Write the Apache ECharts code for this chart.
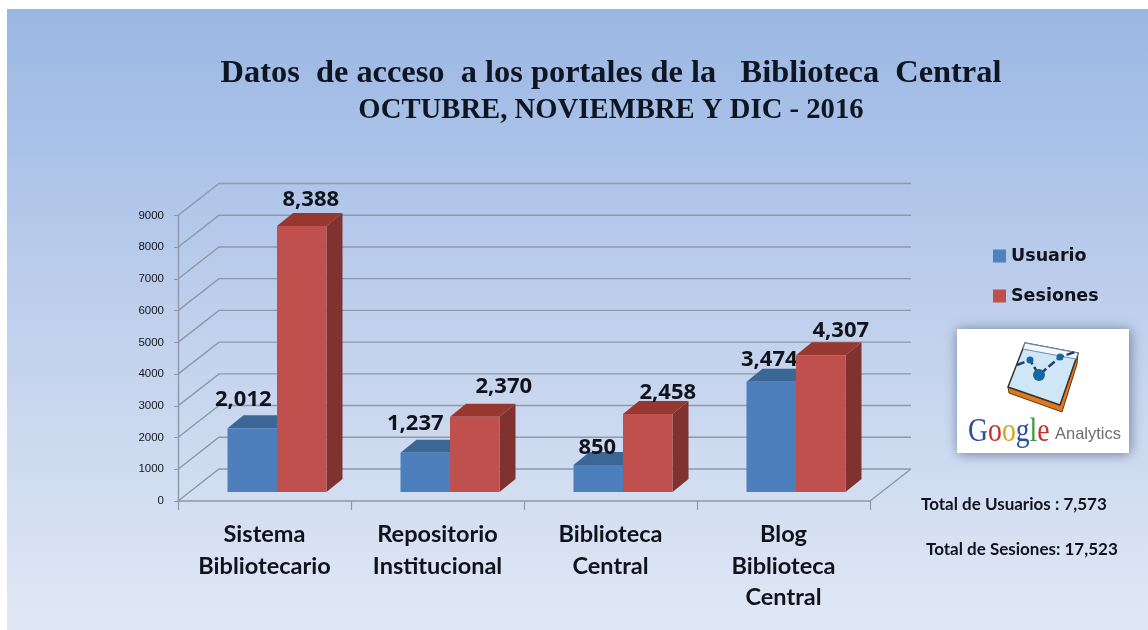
<!DOCTYPE html>
<html><head><meta charset="utf-8">
<style>html,body{margin:0;padding:0;background:#fff}#c{width:1148px;height:630px}</style>
<script src="https://cdn.jsdelivr.net/npm/echarts@6/dist/echarts.min.js"></script>
</head><body><div id="c"></div>
<script>
const categories = ['Sistema\nBibliotecario','Repositorio\nInstitucional','Biblioteca\nCentral','Blog\nBiblioteca\nCentral'];
const usuarios = [2012,1237,850,3474];
const sesiones = [8388,2370,2458,4307];
const yTicks = [0,1000,2000,3000,4000,5000,6000,7000,8000,9000];
const titleLine1 = 'Datos  de acceso  a los portales de la   Biblioteca  Central';
const titleLine2 = 'OCTUBRE, NOVIEMBRE Y DIC - 2016';
const totalUsuarios = 'Total de Usuarios : 7,573';
const totalSesiones = 'Total de Sesiones: 17,523';
// label nudges relative to each bar's front top-centre (px)
const nudgeU = [[-9,-28],[-10,-29],[-1,-17],[-2,-22]];
const nudgeS = [[9,-26],[29,-30],[20,-21],[20,-25]];

const fmt = v => String(v).replace(/\B(?=(\d{3})+$)/g, ',');
const WALL_DX = 41, WALL_DY = -32, BAR_DX = 16, BAR_DY = -13, BAR_W = 49.5, SHIFT_X = 12.5, SHIFT_Y = -9;
const LINE = '#8d99aa';

function wallItem(params, api){
  const v = api.value(1), cs = params.coordSys;
  const y = api.coord([0, v])[1], x0 = cs.x, x1 = cs.x + cs.width;
  const children = [{type:'polyline',shape:{points:[[x0,y],[x0+WALL_DX,y+WALL_DY],[x1+WALL_DX,y+WALL_DY]]},
    style:{fill:null,stroke:LINE,lineWidth:1.4}}];
  if (v === 0) children.push({type:'line',shape:{x1:x1,y1:y,x2:x1+WALL_DX,y2:y+WALL_DY},style:{stroke:LINE,lineWidth:1.4}});
  return {type:'group',children};
}
function barRender(side, front, topc, sideC, nudges){
  return function(params, api){
    const i = api.value(0), v = api.value(1);
    const c = api.coord([i, v]), b = api.coord([i, 0]);
    const cx = c[0] + SHIFT_X, y = c[1] + SHIFT_Y, y0 = b[1] + SHIFT_Y;
    const xl = side < 0 ? cx - BAR_W : cx, xr = xl + BAR_W;
    const n = nudges[i];
    return {type:'group',children:[
      {type:'polygon',shape:{points:[[xr,y],[xr+BAR_DX,y+BAR_DY],[xr+BAR_DX,y0+BAR_DY],[xr,y0]]},style:{fill:sideC}},
      {type:'polygon',shape:{points:[[xl,y],[xl+BAR_DX,y+BAR_DY],[xr+BAR_DX,y+BAR_DY],[xr,y]]},style:{fill:topc}},
      {type:'rect',shape:{x:xl,y:y,width:BAR_W,height:y0-y},style:{fill:front}},
      {type:'text',z2:10,style:{text:fmt(v),x:(xl+xr)/2+n[0],y:y+n[1],align:'center',verticalAlign:'middle',
        font:'bold 22px "Open Sans"',fill:'#10131c'}}
    ]};
  };
}
const chart = echarts.init(document.getElementById('c'), null, {renderer:'canvas'});
const sans = '"Lato"';
const serifBold = {fontFamily:'"Liberation Serif"',fontWeight:'bold',color:'#0e1622'};
chart.setOption({
  animation:false,
  backgroundColor:'#fff',
  title:{text:'{a|'+titleLine1+'}\n{b|'+titleLine2+'}',left:611,top:55,textAlign:'center',padding:0,
    textStyle:{rich:{a:Object.assign({fontSize:32.4,lineHeight:37},serifBold),b:Object.assign({fontSize:28.7,lineHeight:37},serifBold)}}},
  legend:{orient:'vertical',left:988,top:242,itemWidth:13,itemHeight:13,itemGap:22,icon:'rect',
    data:['Usuario','Sesiones'],
    textStyle:{fontFamily:'"DejaVu Sans"',fontWeight:'bold',fontSize:17.5,color:'#10131c'}},
  grid:{left:178,right:278,top:215.5,bottom:129,containLabel:false},
  xAxis:{type:'category',data:categories,
    axisLine:{lineStyle:{color:LINE,width:1.5}},
    axisTick:{show:true,length:9,lineStyle:{color:LINE,width:1.2}},
    axisLabel:{interval:0,margin:18,lineHeight:31.5,fontFamily:sans,fontWeight:'bold',fontSize:23.5,color:'#10131c',verticalAlign:'top'}},
  yAxis:{type:'value',min:0,max:9000,interval:1000,
    axisLine:{show:true,lineStyle:{color:LINE,width:1.4}},
    axisTick:{show:true,length:4,lineStyle:{color:LINE}},
    splitLine:{show:false},
    axisLabel:{margin:14,fontFamily:'"Liberation Sans"',fontSize:11.5,color:'#12151c',formatter:v=>String(v)}},
  graphic:[
    {type:'rect',z:-10,shape:{x:7,y:9,width:1141,height:621},
      style:{fill:new echarts.graphic.LinearGradient(0,0,0,1,[{offset:0,color:'#9ab7e4'},{offset:0.5,color:'#c0d0ec'},{offset:1,color:'#e0e8f5'}])}},
    {type:'text',z:5,style:{text:totalUsuarios,x:921,y:505,align:'left',verticalAlign:'middle',font:'bold 17px '+sans,fill:'#10131c'}},
    {type:'text',z:5,style:{text:totalSesiones,x:926,y:550,align:'left',verticalAlign:'middle',font:'bold 17px '+sans,fill:'#10131c'}},
    {type:'group',z:5,children:[
      {type:'rect',shape:{x:957,y:329,width:172,height:124},style:{fill:'#fff',shadowBlur:12,shadowColor:'rgba(40,60,100,.6)',shadowOffsetX:1,shadowOffsetY:1}},
      {type:'polygon',shape:{points:[[1008,387],[1060,405],[1078,353],[1077,364],[1062,412],[1009,393]]},style:{fill:'#e2771c',stroke:'#5b3a12',lineWidth:1}},
      {type:'polygon',shape:{points:[[1025,343],[1078,353],[1060,405],[1008,387]]},style:{fill:'#cfe6f6',stroke:'#333',lineWidth:1.5}},
      {type:'polygon',shape:{points:[[1025,343],[1078,353],[1076,359],[1023,349]]},style:{fill:'#f4f8fc',stroke:'#6d8fb3',lineWidth:1}},
      {type:'polyline',shape:{points:[[1017,365],[1030,360],[1039,375],[1060,357],[1075,352]]},style:{stroke:'#1f3f6e',lineWidth:2.5,fill:null,lineDash:[8,3]}},
      {type:'circle',shape:{cx:1030,cy:360,r:3.5},style:{fill:'#14679f'}},
      {type:'circle',shape:{cx:1060,cy:357,r:3.5},style:{fill:'#14679f'}},
      {type:'circle',shape:{cx:1039,cy:375,r:6},style:{fill:'#14679f'}},
      {type:'text',x:968,y:432,scaleX:0.84,style:{x:0,y:0,verticalAlign:'middle',align:'left',
        text:'{a|G}{b|o}{c|o}{a|g}{d|l}{b|e}',
        rich:{a:{fill:'#2f4f9e',font:'33px "Liberation Serif"'},b:{fill:'#c8302a',font:'33px "Liberation Serif"'},c:{fill:'#d9a520',font:'33px "Liberation Serif"'},d:{fill:'#3d9a45',font:'33px "Liberation Serif"'}}}},
      {type:'text',style:{x:1055,y:434,verticalAlign:'middle',align:'left',text:'Analytics',font:'16.5px "Liberation Sans"',fill:'#6e6e6e'}}
    ]}
  ],
  series:[
    {type:'custom',name:'_wall',coordinateSystem:'cartesian2d',silent:true,z:1,data:yTicks.map(v=>[0,v]),renderItem:wallItem,encode:{x:0,y:1}},
    {type:'custom',name:'Usuario',z:3,coordinateSystem:'cartesian2d',itemStyle:{color:'#4f81bd'},
      data:usuarios.map((v,i)=>[i,v]),encode:{x:0,y:1},renderItem:barRender(-1,'#4d7fbc','#3c6696','#35597f',nudgeU)},
    {type:'custom',name:'Sesiones',z:4,coordinateSystem:'cartesian2d',itemStyle:{color:'#c0504d'},
      data:sesiones.map((v,i)=>[i,v]),encode:{x:0,y:1},renderItem:barRender(1,'#c0504d','#96382f','#7f322f',nudgeS)}
  ]
});
</script></body></html>
